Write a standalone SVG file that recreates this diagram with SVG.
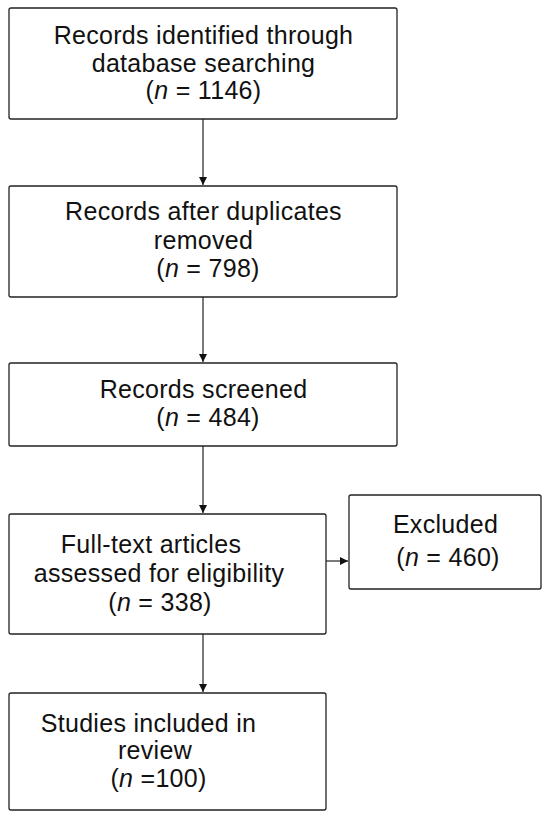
<svg xmlns="http://www.w3.org/2000/svg" width="550" height="818" viewBox="0 0 550 818">
<defs>
<marker id="ah" viewBox="0 0 10 10" refX="10" refY="5" markerWidth="8" markerHeight="8" markerUnits="userSpaceOnUse" orient="auto">
<path d="M0,0 L10,5 L0,10 z" fill="#111"/>
</marker>
<style>
.box{fill:#fff;stroke:#222;stroke-width:1.3}
.t{font-family:"Liberation Sans",Arial,sans-serif;font-size:25px;letter-spacing:0.3px;fill:#111;text-anchor:middle}
.c{stroke:#222;stroke-width:1.2;fill:none;marker-end:url(#ah)}
</style>
</defs>
<rect width="550" height="818" fill="#fff"/>
<g id="n1">
<rect class="box" x="9" y="8" width="388" height="111" rx="2"/>
<text class="t" x="203.5" y="44">Records identified through</text>
<text class="t" x="203.5" y="72">database searching</text>
<text class="t" x="203.5" y="99">(<tspan font-style="italic">n</tspan> = 1146)</text>
</g>
<g id="n2">
<rect class="box" x="9" y="186" width="388" height="111" rx="2"/>
<text class="t" x="203.5" y="220">Records after duplicates</text>
<text class="t" x="203.5" y="249">removed</text>
<text class="t" x="208" y="277">(<tspan font-style="italic">n</tspan> = 798)</text>
</g>
<g id="n3">
<rect class="box" x="9" y="363" width="388" height="83" rx="2"/>
<text class="t" x="203.5" y="398">Records screened</text>
<text class="t" x="208" y="426">(<tspan font-style="italic">n</tspan> = 484)</text>
</g>
<g id="n4">
<rect class="box" x="9" y="514" width="317" height="120" rx="2"/>
<text class="t" x="151" y="553">Full-text articles</text>
<text class="t" x="159" y="582">assessed for eligibility</text>
<text class="t" x="160" y="611">(<tspan font-style="italic">n</tspan> = 338)</text>
</g>
<g id="n5">
<rect class="box" x="349" y="495" width="192" height="94" rx="2"/>
<text class="t" x="445.5" y="533">Excluded</text>
<text class="t" x="448" y="566">(<tspan font-style="italic">n</tspan> = 460)</text>
</g>
<g id="n6">
<rect class="box" x="9" y="693" width="317" height="117" rx="2"/>
<text class="t" x="148.5" y="732">Studies included in</text>
<text class="t" x="155" y="759">review</text>
<text class="t" x="158.5" y="787">(<tspan font-style="italic">n</tspan> =100)</text>
</g>
<g id="connectors">
<line class="c" x1="203" y1="119" x2="203" y2="185"/>
<line class="c" x1="203" y1="297" x2="203" y2="362"/>
<line class="c" x1="203" y1="446" x2="203" y2="513"/>
<line class="c" x1="326" y1="561" x2="348" y2="561"/>
<line class="c" x1="203" y1="634" x2="203" y2="692"/>
</g>
</svg>
